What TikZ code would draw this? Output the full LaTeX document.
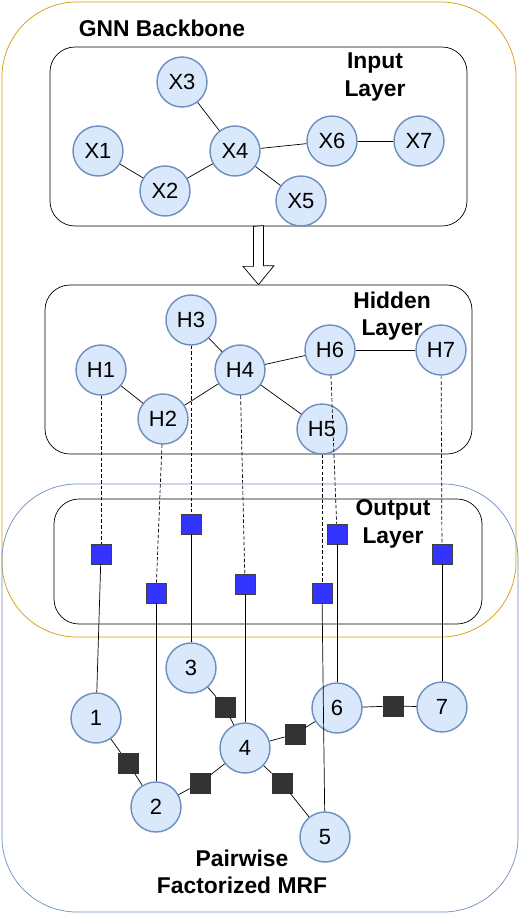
\documentclass[tikz,border=0pt]{standalone}
\usepackage{fontspec}
\setmainfont{Liberation Sans}
\usepackage{tikz}
\usetikzlibrary{positioning, calc}
\definecolor{varfill}{HTML}{DAE8FC}
\definecolor{varline}{HTML}{6C8EBF}
\definecolor{gnnline}{HTML}{D79B00}
\definecolor{outfill}{HTML}{3333FF}
\definecolor{facfill}{HTML}{333333}
\tikzset{
x=0.02cm, y=-0.02cm, % one unit is one pixel of the sketch, y going down
line width=0.7pt,
var/.style={circle, draw=varline, fill=varfill, minimum size=1cm, inner sep=0pt, line width=0.8pt, font=\fontsize{12.5}{15}\selectfont}, % graph nodes
outsq/.style={draw=black!75, fill=outfill, minimum size=0.4cm, inner sep=0pt}, % output units
factor/.style={draw=facfill, fill=facfill, minimum size=0.4cm, inner sep=0pt}, % pairwise factors
layer/.style={draw, rounded corners=0.5cm, inner sep=0pt},
title/.style={font=\fontsize{13}{15.5}\selectfont\bfseries, align=center},
proj/.style={dash pattern=on 2pt off 1.2pt},
}

\begin{document}
\begin{tikzpicture}
\def\px{0.02cm}
\useasboundingbox (0,0) rectangle (520,914);

% the two big groups
\node[draw=gnnline, rounded corners=1.5cm, minimum width=514*\px, minimum height=635*\px] (gnn) at (259,319.5) {};
\node[draw=varline, rounded corners=1.5cm, minimum width=516*\px, minimum height=428*\px] (mrf) at (260,698) {};
\node[title] (gnnlbl) at (162,28) {GNN Backbone};
\node[title] (mrflbl) at (242,872) {Pairwise\\Factorized MRF};

% layer boxes
\node[layer, minimum width=417*\px, minimum height=179*\px] (inbox) at (258.5,136.5) {};
\node[layer, minimum width=427*\px, minimum height=169*\px] (hidbox) at (258.5,369.5) {};
\node[layer, minimum width=428*\px, minimum height=125*\px] (outbox) at (268,561.5) {};
\node[title] (inlbl) at (375,77) {Input\\Layer};
\node[title] (hidlbl) at (392,316) {Hidden\\Layer};
\node[title] (outlbl) at (393,524) {Output\\Layer};

% hollow arrow input -> hidden
\draw[fill=white] (inbox.south) ++(-5,0) -- ++(0,40) -- ++(-10.5,0) -- (hidbox.north) -- ++(15.5,-19) -- ++(-10.5,0) -- ++(0,-40) -- cycle;

% input layer
\node[var] (X1) at (98,151) {X1};
\node[var] (X2) at (165,191) {X2};
\node[var] (X3) at (182,82) {X3};
\node[var] (X4) at (235,151) {X4};
\node[var] (X5) at (301,201) {X5};
\node[var] (X6) at (332,141) {X6};
\node[var] (X7) at (419,141) {X7};

% hidden layer
\node[var] (H1) at (101,370) {H1};
\node[var] (H2) at (163,419) {H2};
\node[var] (H3) at (191,320) {H3};
\node[var] (H4) at (240,370) {H4};
\node[var] (H5) at (322,429) {H5};
\node[var] (H6) at (330,350) {H6};
\node[var] (H7) at (441,350) {H7};

% output layer
\node[outsq] (O1) at (101,554) {};
\node[outsq] (O2) at (156,593) {};
\node[outsq] (O3) at (191,524) {};
\node[outsq] (O4) at (245,584) {};
\node[outsq] (O5) at (322,593) {};
\node[outsq] (O6) at (337,534) {};
\node[outsq] (O7) at (442,554) {};

% MRF variables and factors
\node[var] (n1) at (96,718) {1};
\node[var] (n2) at (156,807) {2};
\node[var] (n3) at (191,668) {3};
\node[var] (n4) at (245,748) {4};
\node[var] (n5) at (325,837) {5};
\node[var] (n6) at (337,708) {6};
\node[var] (n7) at (442,707) {7};
\node[factor] (f12) at (128,763) {};
\node[factor] (f24) at (200,783) {};
\node[factor] (f34) at (225,707) {};
\node[factor] (f45) at (282,783) {};
\node[factor] (f46) at (295,734) {};
\node[factor] (f67) at (393,706) {};

% edges
\path (X1) edge (X2) (X2) edge (X4) (X3) edge (X4) (X4) edge (X5) (X4) edge (X6) (X6) edge (X7); % input graph
\path (H1) edge (H2) (H2) edge (H4) (H3) edge (H4) (H4) edge (H5) (H4) edge (H6) (H6) edge (H7); % hidden graph
\path (H1) edge[proj] (O1) (H2) edge[proj] (O2) (H3) edge[proj] (O3) (H4) edge[proj] (O4); % hidden to output
\path (H5) edge[proj] (O5) (H6) edge[proj] (O6) (H7) edge[proj] (O7);
\path (O1) edge (n1) (O2) edge (n2) (O3) edge (n3) (O4) edge (n4) (O5) edge (n5) (O6) edge (n6) (O7) edge (n7); % output to MRF
\path (n1) edge (f12) (f12) edge (n2) (n2) edge (f24) (f24) edge (n4); % factors
\path (n3) edge (f34) (f34) edge (n4) (n4) edge (f45) (f45) edge (n5);
\path (n4) edge (f46) (f46) edge (n6) (n6) edge (f67) (f67) edge (n7);
\end{tikzpicture}
\end{document}
